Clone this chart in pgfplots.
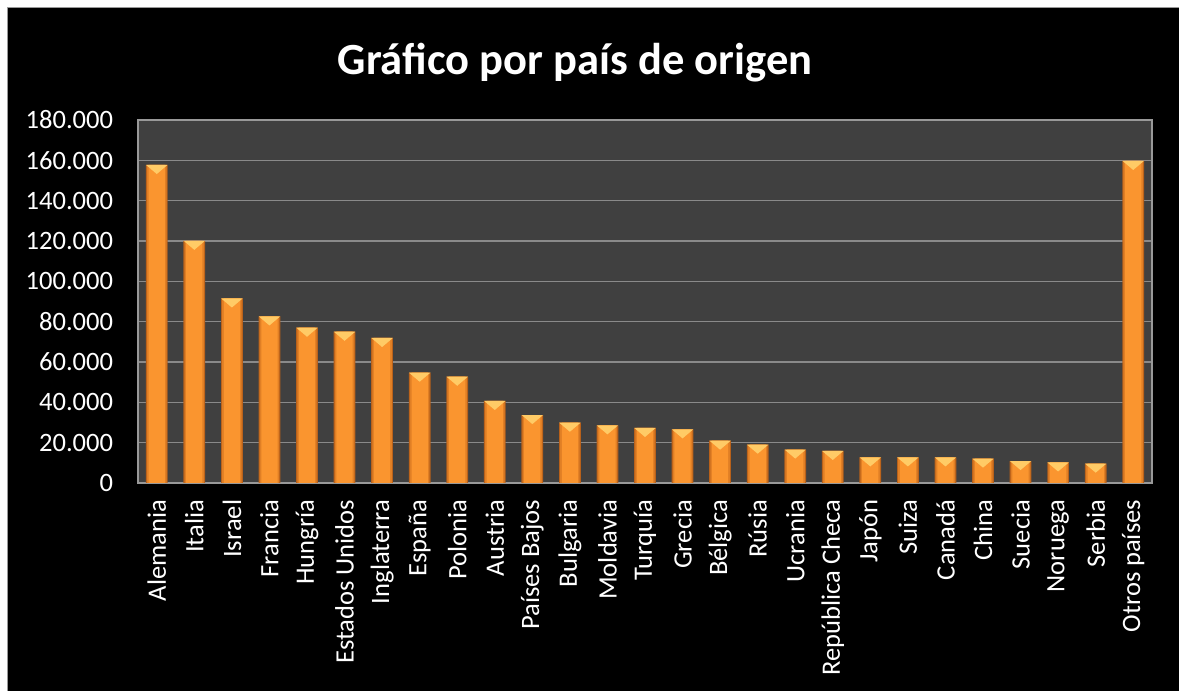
\documentclass[border=0pt]{standalone}
\usepackage{fontspec}
\setmainfont{Carlito}
\usepackage{pgfplots}
\usepackage{pgfplotstable}
\pgfplotsset{compat=1.18}
\definecolor{plotbg}{HTML}{404040}
\definecolor{gridc}{HTML}{8A8A8A}
\definecolor{barL}{HTML}{FA952F}
\definecolor{barM}{HTML}{E07F25}
\definecolor{barD}{HTML}{B9611A}
\definecolor{bevelc}{HTML}{FFCB66}
\pgfdeclareplotmark{bevel}{%
  \pgfpathmoveto{\pgfpoint{-8.0pt}{0pt}}%
  \pgfpathlineto{\pgfpoint{8.0pt}{0pt}}%
  \pgfpathlineto{\pgfpoint{0pt}{-6.8pt}}%
  \pgfpathclose
  \pgfusepath{fill}}
\pgfplotstableread{
x y
0 157700
1 120100
2 91500
3 82600
4 77000
5 75000
6 71900
7 54700
8 52700
9 40700
10 33700
11 29900
12 28600
13 27300
14 26600
15 21000
16 19000
17 16600
18 15900
19 12700
20 12700
21 12700
22 12100
23 10900
24 10200
25 9600
26 159700
}\datatable
\begin{document}
\begin{tikzpicture}
\begin{scope}[x=0.75pt,y=0.75pt]
\path[use as bounding box] (0,0) rectangle (1179,691);
\fill[white] (0,0) rectangle (1179,691);
\filldraw[fill=black, draw=gray!80, line width=0.75pt] (7,-2) rectangle (1181,683);
\node[font=\fontsize{33.4}{40}\selectfont\bfseries, text=white, anchor=base] at (575,616) {Gráfico por país de origen};
\end{scope}
\begin{axis}[
  at={(103.5pt,156pt)}, anchor=south west,
  scale only axis, width=760.5pt, height=272.25pt,
  xmin=-0.5, xmax=26.5, ymin=0, ymax=180000,
  xtick={0,...,26},
  xticklabels={Alemania, Italia, Israel, Francia, Hungría, Estados Unidos, Inglaterra, España, Polonia, Austria, Países Bajos, Bulgaria, Moldavia, Turquía, Grecia, Bélgica, Rúsia, Ucrania, República Checa, Japón, Suiza, Canadá, China, Suecia, Noruega, Serbia, Otros países},
  ytick={0,20000,...,180000},
  scaled y ticks=false,
  /pgf/number format/fixed,
  /pgf/number format/1000 sep={.},
  /pgf/number format/assume math mode=true,
  axis background/.style={fill=plotbg},
  ymajorgrids, grid style={gridc, line width=1.2pt},
  major tick length=0pt,
  axis line style={gray!80, line width=0.9pt},
  tick label style={font=\fontsize{19.9}{24}\selectfont, text=white},
  xticklabel style={rotate=90, anchor=east, inner sep=0pt},
  xticklabel shift=12.5pt,
  yticklabel style={anchor=east, inner sep=0pt},
  yticklabel shift=18.5pt,
  clip=false,
]
\addplot[ybar, bar width=16.3pt, draw=none, fill=barD] table[x=x,y=y] {\datatable};
\addplot[ybar, bar width=14.6pt, draw=none, fill=barM] table[x=x,y=y] {\datatable};
\addplot[ybar, bar width=12.2pt, draw=none, fill=barL] table[x=x,y=y] {\datatable};
\addplot[only marks, mark=bevel, mark options={fill=bevelc, draw=none}] table[x=x,y=y] {\datatable};
\end{axis}
\end{tikzpicture}
\end{document}
